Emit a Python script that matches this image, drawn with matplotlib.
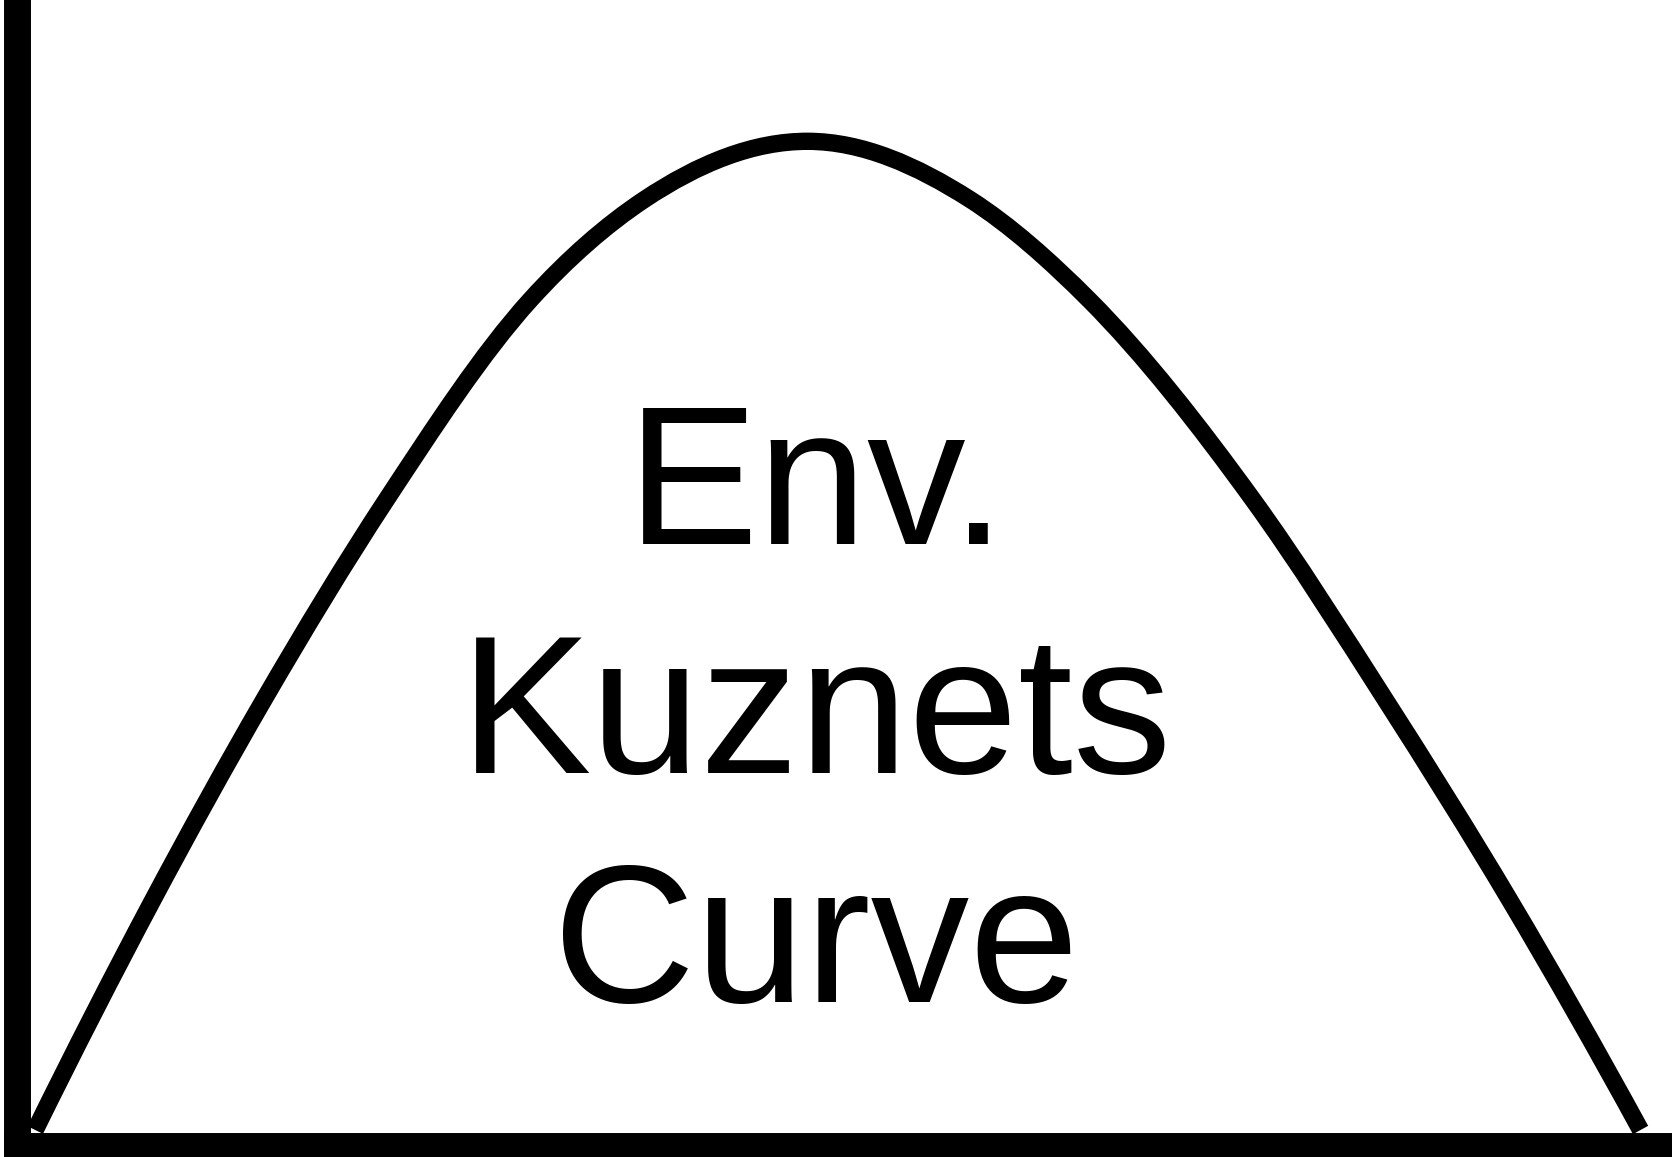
#! /usr/bin/env python3

'''
Environmental Kuznets curve sketch: an inverted U over bare axes.
'''

import matplotlib
matplotlib.use('Agg')
import matplotlib.pyplot as plt
from matplotlib.path import Path
from matplotlib.patches import PathPatch

# income (0-100) vs environmental degradation (0-100)
income = [1.1, 8.2, 14.9, 22.3, 31.0, 37.9, 47.8, 57.6, 64.8, 74.7, 82.7, 90.2, 98.1]
degradation = [1.4, 21.5, 39.0, 56.5, 74.0, 82.8, 87.9, 82.8, 74.0, 56.5, 39.0, 21.5, 1.4]
label = 'Env.\nKuznets\nCurve'
label_pos = (48.3, 12.6)


def slopes(xs, ys):
    '''
    dy/dx at every point from the parabola through it and its neighbours.
    '''
    n = len(xs)
    h = [xs[i + 1] - xs[i] for i in range(n - 1)]
    d = [(ys[i + 1] - ys[i]) / h[i] for i in range(n - 1)]
    m = [0.0] * n
    for i in range(1, n - 1):
        m[i] = (d[i - 1] * h[i] + d[i] * h[i - 1]) / (h[i - 1] + h[i])
    m[0] = ((2 * h[0] + h[1]) * d[0] - h[0] * d[1]) / (h[0] + h[1])
    m[-1] = ((2 * h[-1] + h[-2]) * d[-1] - h[-1] * d[-2]) / (h[-1] + h[-2])
    return m


def smooth_path(xs, ys):
    '''
    Cubic Hermite curve through the points, written as Bezier segments.
    '''
    m = slopes(xs, ys)
    verts = [(xs[0], ys[0])]
    codes = [Path.MOVETO]
    for i in range(len(xs) - 1):
        h = (xs[i + 1] - xs[i]) / 3
        verts += [
            (xs[i] + h, ys[i] + m[i] * h),
            (xs[i + 1] - h, ys[i + 1] - m[i + 1] * h),
            (xs[i + 1], ys[i + 1]),
        ]
        codes += [Path.CURVE4] * 3
    return Path(verts, codes)


def main():
    fig = plt.figure(figsize=(16.72, 11.57), dpi=100)
    ax = fig.add_axes([17 / 1672, 11 / 1157, 1 - 17 / 1672, 1143 / 1157])
    ax.add_patch(PathPatch(smooth_path(income, degradation), facecolor='none',
                           edgecolor='black', linewidth=12.5,
                           joinstyle='round', capstyle='butt'))
    ax.set_xlim(0, 100)
    ax.set_ylim(0, 100)
    ax.set_xticks([])
    ax.set_yticks([])
    for spine in 'right', 'top':
        ax.spines[spine].set_visible(False)
    for spine in 'left', 'bottom':
        ax.spines[spine].set_linewidth(19.4)
        ax.spines[spine].set_color('black')
    ax.text(label_pos[0], label_pos[1], label, ha='center', va='baseline',
            multialignment='center', fontsize=142, linespacing=1.315,
            family=['Liberation Sans', 'DejaVu Sans'], color='black')
    fig.savefig('out.png', dpi=100, facecolor='white')


if __name__ == '__main__':
    main()
